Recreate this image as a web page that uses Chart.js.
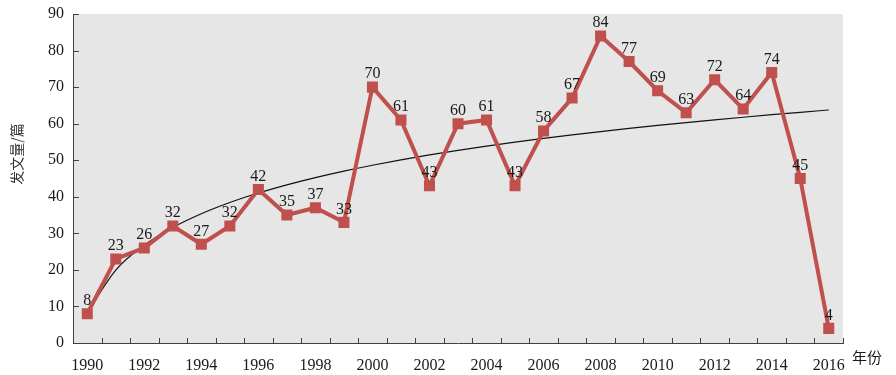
<!DOCTYPE html>
<html><head><meta charset="utf-8">
<script src="https://cdn.jsdelivr.net/npm/chart.js@4/dist/chart.umd.min.js"></script>
<style>html,body{margin:0;padding:0;background:#fff}</style>
</head><body>
<canvas id="c" width="896" height="375"></canvas>
<script>
const years = ['1990','1991','1992','1993','1994','1995','1996','1997','1998','1999','2000','2001','2002','2003','2004','2005','2006','2007','2008','2009','2010','2011','2012','2013','2014','2015','2016'];
const papers = [8,23,26,32,27,32,42,35,37,33,70,61,43,60,61,43,58,67,84,77,69,63,72,64,74,45,4];
const yMin = 0, yMax = 90, yStep = 10;
const yTitle = '发文量/篇';
const xTitle = '年份';

// logarithmic trend line fitted (least squares) to the data, as a spreadsheet trendline
const lnX = papers.map((_, i) => Math.log(i + 1));
const n = papers.length;
const mL = lnX.reduce((s, v) => s + v, 0) / n;
const mY = papers.reduce((s, v) => s + v, 0) / n;
let sxy = 0, sxx = 0;
lnX.forEach((l, i) => { sxy += (l - mL) * (papers[i] - mY); sxx += (l - mL) * (l - mL); });
const slope = sxy / sxx, icpt = mY - slope * mL;
const trend = lnX.map((l, i) => ({ x: i, y: icpt + slope * l }));

const AXIS = '#404040';
const RED = '#C0504D';
const SERIF = '"Liberation Serif", "Times New Roman", serif';
const CJK = '"Noto Sans CJK SC", sans-serif';

const deco = {
  id: 'deco',
  beforeDraw(chart) {
    const { ctx, chartArea: a } = chart;
    ctx.save();
    ctx.fillStyle = '#E6E6E6';
    ctx.fillRect(a.left, a.top, a.right - a.left, a.bottom - a.top);
    ctx.restore();
  },
  beforeDatasetsDraw(chart) {
    const { ctx, chartArea: a, scales } = chart;
    ctx.save();
    ctx.strokeStyle = AXIS;
    ctx.lineWidth = 1;
    const xs = scales.x, ys = scales.y;
    const w = xs.getPixelForValue(1) - xs.getPixelForValue(0);
    ctx.beginPath();
    for (let i = 0; i <= years.length; i++) {
      const px = Math.round(xs.getPixelForValue(0) - w / 2 + i * w) + 0.5;
      ctx.moveTo(px, a.bottom);
      ctx.lineTo(px, a.bottom - 5);
    }
    for (let v = yMin; v <= yMax; v += yStep) {
      const py = Math.round(ys.getPixelForValue(v)) + 0.5;
      ctx.moveTo(a.left, py);
      ctx.lineTo(a.left + 6, py);
    }
    ctx.stroke();
    ctx.restore();
  },
  afterDatasetsDraw(chart) {
    const { ctx } = chart;
    const meta = chart.getDatasetMeta(0);
    ctx.save();
    ctx.fillStyle = '#1a1a1a';
    ctx.font = '16px ' + SERIF;
    ctx.textAlign = 'center';
    ctx.textBaseline = 'middle';
    meta.data.forEach((p, i) => ctx.fillText(String(papers[i]), p.x, p.y - 13));
    // axis titles
    ctx.font = '15px ' + CJK;
    ctx.fillStyle = '#1a1a1a';
    ctx.textAlign = 'left';
    ctx.fillText(xTitle, 852, 357);
    ctx.translate(17, 154);
    ctx.rotate(-Math.PI / 2);
    ctx.textAlign = 'center';
    ctx.font = '14px ' + CJK;
    ctx.fillStyle = '#333';
    ctx.fillText(yTitle, 0, 0);
    ctx.restore();
  }
};

new Chart(document.getElementById('c'), {
  type: 'line',
  data: {
    labels: years,
    datasets: [
      {
        data: papers,
        borderColor: RED,
        backgroundColor: RED,
        borderWidth: 4,
        pointStyle: 'rect',
        pointRadius: 7.8,
        pointHoverRadius: 7.8,
        pointBackgroundColor: RED,
        pointBorderWidth: 0,
        tension: 0,
        order: 0
      },
      {
        data: trend,
        xAxisID: 'x2',
        borderColor: '#111',
        borderWidth: 1.2,
        pointRadius: 0,
        cubicInterpolationMode: 'monotone',
        order: 1
      }
    ]
  },
  options: {
    responsive: false,
    animation: false,
    devicePixelRatio: 1,
    layout: { padding: { top: 14, right: 53, left: 0, bottom: 0 } },
    plugins: { legend: { display: false }, tooltip: { enabled: false } },
    scales: {
      x: {
        type: 'category',
        offset: true,
        grid: { display: false, offset: true },
        border: { display: true, color: AXIS, width: 1 },
        ticks: {
          autoSkip: false, maxRotation: 0, padding: 5, color: '#1a1a1a',
          font: { family: SERIF, size: 16 },
          callback: (v, i) => (i % 2 === 0 ? years[i] : '')
        },
        afterFit(s) { s.height = 32; s.paddingLeft = 0; s.paddingRight = 0; }
      },
      x2: {
        type: 'linear', display: false, min: -0.5, max: years.length - 0.5
      },
      y: {
        min: yMin, max: yMax,
        grid: { display: false, drawTicks: false },
        border: { display: true, color: AXIS, width: 1 },
        ticks: { stepSize: yStep, padding: 9, color: '#1a1a1a', font: { family: SERIF, size: 16 } },
        afterFit(s) { s.width = 73; s.paddingTop = 0; s.paddingBottom = 0; }
      }
    }
  },
  plugins: [deco]
});
</script>
</body></html>
